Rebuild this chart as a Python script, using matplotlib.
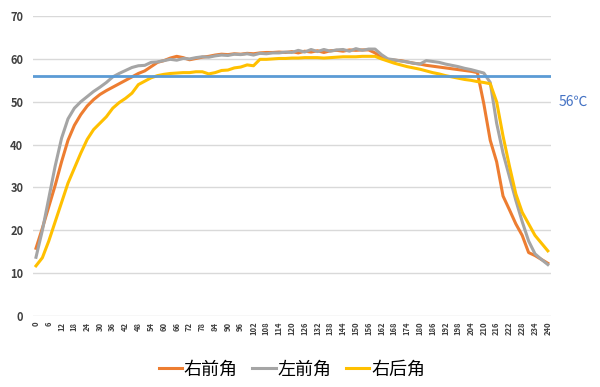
# Temperature curves of three corners, with the 56 °C reference line.

import matplotlib
matplotlib.use("Agg")
import matplotlib.pyplot as plt
import numpy as np

plt.rcParams['font.family'] = ['Noto Sans CJK SC', 'DejaVu Sans']

minutes = list(range(0, 241, 3))

right_front = [
    15.8, 20.5, 25.5, 30.5, 36.0, 41.0, 44.5, 47.0, 49.0, 50.5,
    51.7, 52.6, 53.4, 54.2, 55.0, 55.8, 56.6, 57.2, 58.2, 59.2,
    59.6, 60.2, 60.6, 60.3, 59.8, 60.1, 60.4, 60.6, 60.9, 61.1,
    61.0, 61.2, 61.1, 61.3, 61.2, 61.4, 61.5, 61.5, 61.6, 61.5,
    61.7, 61.4, 61.8, 61.6, 61.9, 61.5, 61.9, 62.0, 61.8, 62.1,
    62.0, 62.1, 62.1, 61.4, 60.3, 59.9, 59.7, 59.6, 59.3, 59.0,
    58.8, 58.5, 58.3, 58.1, 57.9, 57.7, 57.5, 57.3, 57.1, 56.8,
    49.5, 41.0, 36.0, 28.0, 24.8, 21.5, 18.8, 14.8, 14.1, 13.2,
    12.3,
]

left_front = [
    13.7, 20.0, 27.5, 35.0, 41.5, 46.0, 48.5, 50.0, 51.2, 52.4,
    53.4, 54.5, 55.8, 56.6, 57.3, 58.0, 58.4, 58.5, 59.2, 59.3,
    59.6, 59.9, 59.7, 60.1, 60.0, 60.3, 60.5, 60.4, 60.7, 60.9,
    60.8, 61.1, 61.0, 61.2, 60.9, 61.3, 61.2, 61.4, 61.4, 61.6,
    61.5, 62.0, 61.6, 62.2, 61.7, 62.2, 61.8, 62.1, 62.2, 61.8,
    62.4, 62.0, 62.3, 62.3, 61.0, 60.0, 59.8, 59.5, 59.3, 59.0,
    58.8, 59.6, 59.4, 59.2, 58.8, 58.5, 58.2, 57.8, 57.5, 57.1,
    56.7, 54.5, 45.0, 38.0, 32.5, 27.0, 22.0, 17.5, 14.5, 13.2,
    12.0,
]

right_rear = [
    11.7, 13.6, 17.5, 22.0, 26.5, 31.0, 34.5, 38.0, 41.2, 43.5,
    45.0, 46.5, 48.5, 49.8, 50.8, 52.0, 54.0, 54.8, 55.6, 56.1,
    56.4, 56.6, 56.7, 56.8, 56.8, 57.0, 57.0, 56.5, 56.8, 57.3,
    57.4, 57.9, 58.1, 58.6, 58.4, 59.9, 59.9, 60.0, 60.1, 60.1,
    60.2, 60.2, 60.3, 60.3, 60.3, 60.2, 60.3, 60.4, 60.5, 60.5,
    60.5, 60.6, 60.6, 60.6, 60.0, 59.5, 59.0, 58.6, 58.2, 57.9,
    57.6, 57.2, 56.8, 56.5, 56.1, 55.8, 55.5, 55.2, 55.0, 54.7,
    54.5, 54.2, 50.0, 42.0, 35.0, 28.5, 24.2, 21.5, 18.8, 17.0,
    15.2,
]

limit_temp = 56
series_names = ["右前角", "左前角", "右后角"]
series_colors = ["#ED7D31", "#A5A5A5", "#FFC000"]

fig = plt.figure(figsize=(6, 3.87), dpi=100)
ax = fig.add_axes([0.055, 0.1835, 0.863, 0.775])

for vals, name, col in zip([right_front, left_front, right_rear], series_names, series_colors):
    ax.plot(minutes, vals, color=col, linewidth=2.2, label=name, solid_joinstyle="round")

ax.axhline(limit_temp, color="#5B9BD5", linewidth=2.0)
ax.text(1.015, (limit_temp - 6) / 70, "56℃", transform=ax.transAxes,
        color="#4472C4", fontsize=10, va="center", ha="left")

ax.set_xlim(-1.4, 241.4)
ax.set_ylim(0, 70)
ax.set_yticks(range(0, 71, 10))
ax.set_xticks(range(0, 241, 6))
ax.set_xticklabels([str(t) for t in range(0, 241, 6)], rotation=90,
                   fontsize=5.5, fontweight="bold", color="#404040")
for lab in ax.get_yticklabels():
    lab.set_fontsize(8)
    lab.set_fontweight("bold")
    lab.set_color("#404040")
ax.tick_params(length=0, pad=4)
ax.tick_params(axis="y", pad=7)

ax.grid(True, axis="y", color="#D9D9D9", linewidth=1)
ax.set_axisbelow(True)
for s in ax.spines.values():
    s.set_visible(False)

ax.legend(loc="upper center", bbox_to_anchor=(0.5, -0.095), ncol=3, frameon=False,
          fontsize=13, handlelength=1.3, handletextpad=0.1, columnspacing=0.8,
          prop={"size": 13, "weight": "medium"})

plt.savefig("out.png", dpi=100)
